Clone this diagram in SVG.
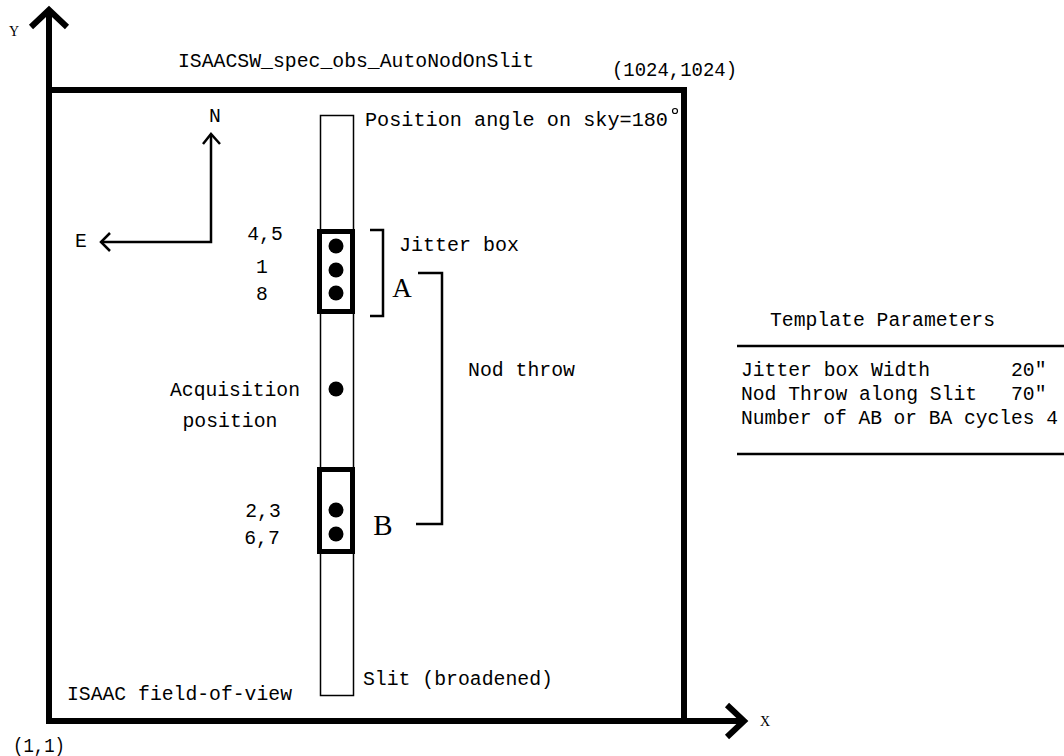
<svg xmlns="http://www.w3.org/2000/svg" width="1064" height="756" viewBox="0 0 1064 756">
<style>
.t{font-family:"Liberation Mono","DejaVu Sans Mono",monospace;font-size:19.7px;fill:#000}
.s{font-family:"Liberation Serif","DejaVu Serif",serif;fill:#000}
.thick{fill:none;stroke:#000;stroke-width:6}
.thin{fill:none;stroke:#000;stroke-width:1.5}
.med{fill:none;stroke:#000;stroke-width:2.5}
.box{fill:none;stroke:#000;stroke-width:5}
.dot{fill:#000}
</style>
<rect width="1064" height="756" fill="#fff"/>
<g id="axes">
<line class="thick" x1="49" y1="724" x2="49" y2="10"/>
<polyline class="thick" points="31,27 49,10 67,27"/>
<line class="thick" x1="46" y1="721" x2="743" y2="721"/>
<polyline class="thick" points="727,705 744,721 727,737"/>
<text class="s" x="14" y="36" font-size="14" text-anchor="middle">Y</text>
<text class="s" x="765" y="726" font-size="14" text-anchor="middle">X</text>
<text class="t" x="13" y="752" font-size="17" textLength="52" lengthAdjust="spacingAndGlyphs">(1,1)</text>
</g>
<g id="field-of-view">
<polyline class="thick" points="49,90 684,90 684,721"/>
<text class="t" x="178" y="67" textLength="356" lengthAdjust="spacingAndGlyphs">ISAACSW_spec_obs_AutoNodOnSlit</text>
<text class="t" x="612" y="76" textLength="125" lengthAdjust="spacingAndGlyphs">(1024,1024)</text>
<text class="t" x="67" y="700" textLength="225" lengthAdjust="spacingAndGlyphs">ISAAC field-of-view</text>
</g>
<g id="compass">
<polyline class="med" points="211,134 211,242 102,242"/>
<polyline class="med" points="203,144 211,134 220,144"/>
<polyline class="med" points="110,233 101,242 110,251"/>
<text class="t" x="215" y="122" text-anchor="middle">N</text>
<text class="t" x="81" y="247" text-anchor="middle">E</text>
</g>
<g id="slit">
<rect class="thin" x="320.5" y="115.5" width="33" height="580"/>
<text class="t" x="365" y="126" textLength="303" lengthAdjust="spacingAndGlyphs">Position angle on sky=180</text>
<circle cx="675" cy="111" r="2.5" fill="none" stroke="#000" stroke-width="1.2"/>
<text class="t" x="363" y="685" textLength="190" lengthAdjust="spacingAndGlyphs">Slit (broadened)</text>
</g>
<g id="jitter-box-A">
<rect x="319.5" y="231.5" width="33" height="80" fill="#fff" class="box"/>
<circle class="dot" cx="336" cy="246" r="7.5"/>
<circle class="dot" cx="336" cy="270" r="7.5"/>
<circle class="dot" cx="336" cy="293" r="7.5"/>
<text class="t" x="265" y="240" text-anchor="middle">4,5</text>
<text class="t" x="262" y="273" text-anchor="middle">1</text>
<text class="t" x="262" y="300" text-anchor="middle">8</text>
<text class="s" x="402" y="297" font-size="27" text-anchor="middle">A</text>
</g>
<g id="acquisition">
<circle class="dot" cx="336" cy="389" r="7.5"/>
<text class="t" x="235" y="396" text-anchor="middle" textLength="130" lengthAdjust="spacingAndGlyphs">Acquisition</text>
<text class="t" x="230" y="427" text-anchor="middle" textLength="95" lengthAdjust="spacingAndGlyphs">position</text>
</g>
<g id="jitter-box-B">
<rect x="319.5" y="469.5" width="33" height="82" fill="#fff" class="box"/>
<circle class="dot" cx="336" cy="510" r="7.5"/>
<circle class="dot" cx="336" cy="534" r="7.5"/>
<text class="t" x="263" y="517" text-anchor="middle">2,3</text>
<text class="t" x="262" y="544" text-anchor="middle">6,7</text>
<text class="s" x="383" y="535" font-size="29" text-anchor="middle">B</text>
</g>
<g id="connectors">
<polyline class="med" points="370,230 383,230 383,316 370,316"/>
<polyline class="med" points="418,273 442,273 442,524 416,524"/>
</g>
<g id="labels">
<text class="t" x="399" y="251" textLength="120" lengthAdjust="spacingAndGlyphs">Jitter box</text>
<text class="t" x="468" y="376" textLength="107" lengthAdjust="spacingAndGlyphs">Nod throw</text>
</g>
<g id="template-parameters">
<text class="t" x="770" y="326" textLength="225" lengthAdjust="spacingAndGlyphs">Template Parameters</text>
<line class="med" x1="737" y1="346" x2="1064" y2="346"/>
<text class="t" x="741" y="376" textLength="189" lengthAdjust="spacingAndGlyphs">Jitter box Width</text>
<text class="t" x="1011" y="376">20"</text>
<text class="t" x="741" y="400" textLength="236" lengthAdjust="spacingAndGlyphs">Nod Throw along Slit</text>
<text class="t" x="1011" y="400">70"</text>
<text class="t" x="741" y="424" textLength="317" lengthAdjust="spacingAndGlyphs">Number of AB or BA cycles 4</text>
<line class="med" x1="737" y1="454" x2="1064" y2="454"/>
</g>
</svg>
